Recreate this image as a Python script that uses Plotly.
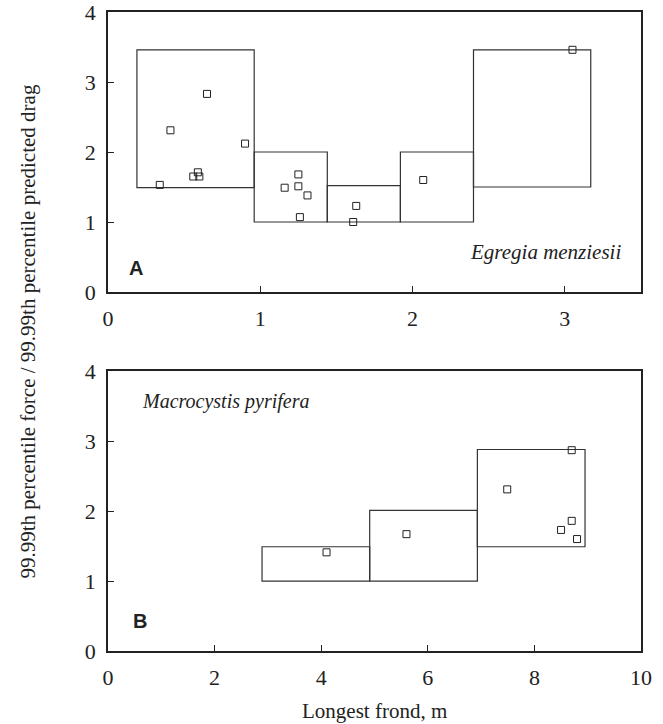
import plotly.graph_objects as go
from plotly.subplots import make_subplots

# Panel A: Egregia menziesii
a_x = [0.34, 0.41, 0.65, 0.90, 0.56, 0.59, 0.60, 1.25, 1.16, 1.25, 1.31, 1.26, 1.63, 1.61, 2.07, 3.05]
a_y = [1.53, 2.31, 2.83, 2.12, 1.65, 1.71, 1.65, 1.68, 1.49, 1.51, 1.38, 1.07, 1.23, 1.00, 1.60, 3.46]
a_box_x0 = [0.19, 0.96, 1.44, 1.92, 2.40]
a_box_x1 = [0.96, 1.44, 1.92, 2.40, 3.17]
a_box_y0 = [1.49, 1.00, 1.00, 1.00, 1.50]
a_box_y1 = [3.46, 2.00, 1.52, 2.00, 3.46]

# Panel B: Macrocystis pyrifera
b_x = [4.10, 5.60, 7.49, 8.70, 8.70, 8.50, 8.80]
b_y = [1.41, 1.67, 2.31, 2.87, 1.86, 1.73, 1.60]
b_box_x0 = [2.89, 4.91, 6.93]
b_box_x1 = [4.91, 6.93, 8.95]
b_box_y0 = [1.00, 1.00, 1.49]
b_box_y1 = [1.49, 2.01, 2.88]

a_xticks = [0, 1, 2, 3]
b_xticks = [0, 2, 4, 6, 8, 10]
yticks = [0, 1, 2, 3, 4]

SERIF = "Times New Roman, Liberation Serif, serif"
SANS = "Arial, Liberation Sans, sans-serif"

fig = make_subplots(rows=2, cols=1)

marker = dict(symbol="square-open", size=7, color="#222", line=dict(width=1))
fig.add_trace(go.Scatter(x=a_x, y=a_y, mode="markers", marker=marker, showlegend=False), row=1, col=1)
fig.add_trace(go.Scatter(x=b_x, y=b_y, mode="markers", marker=marker, showlegend=False), row=2, col=1)

for x0, x1, y0, y1 in zip(a_box_x0, a_box_x1, a_box_y0, a_box_y1):
    fig.add_shape(type="rect", x0=x0, x1=x1, y0=y0, y1=y1, xref="x", yref="y",
                  line=dict(color="#333", width=1.2), layer="below")
for x0, x1, y0, y1 in zip(b_box_x0, b_box_x1, b_box_y0, b_box_y1):
    fig.add_shape(type="rect", x0=x0, x1=x1, y0=y0, y1=y1, xref="x2", yref="y2",
                  line=dict(color="#333", width=1.2), layer="below")

axis_common = dict(showline=True, linecolor="#222", linewidth=1.5, mirror=True,
                   ticks="inside", ticklen=6, tickcolor="#222", tickwidth=1,
                   showgrid=False, zeroline=False, automargin=False,
                   ticklabeloverflow="allow",
                   tickfont=dict(family=SERIF, size=22, color="#222"))

fig.update_xaxes(range=[0, 3.5], tickvals=a_xticks, ticklabelstandoff=6, row=1, col=1, **axis_common)
fig.update_xaxes(range=[0, 10], tickvals=b_xticks, ticklabelstandoff=6, row=2, col=1, **axis_common)
fig.update_yaxes(range=[0, 4], tickvals=yticks, ticklabelstandoff=6, domain=[0.5618, 1.0],
                 row=1, col=1, **axis_common)
fig.update_yaxes(range=[0, 4], tickvals=yticks, ticklabelstandoff=6, domain=[0.0, 0.438],
                 row=2, col=1, **axis_common)

ann = [
    dict(text="<b>A</b>", x=0.035, y=0.085, xref="x domain", yref="y domain", xanchor="left", yanchor="middle",
         showarrow=False, font=dict(family=SANS, size=20, color="#222")),
    dict(text="<b>B</b>", x=0.044, y=0.106, xref="x2 domain", yref="y2 domain", xanchor="left", yanchor="middle",
         showarrow=False, font=dict(family=SANS, size=20, color="#222")),
    dict(text="<i>Egregia menziesii</i>", x=0.967, y=0.143, xref="x domain", yref="y domain",
         xanchor="right", yanchor="middle", showarrow=False, font=dict(family=SERIF, size=21, color="#222")),
    dict(text="<i>Macrocystis pyrifera</i>", x=0.06, y=0.89, xref="x2 domain", yref="y2 domain",
         xanchor="left", yanchor="middle", showarrow=False, font=dict(family=SERIF, size=20, color="#222")),
    dict(text="99.99th percentile force / 99.99th percentile predicted drag", x=(27 - 108) / 533, y=0.5,
         xref="paper", yref="paper", xanchor="center", yanchor="middle", showarrow=False, textangle=-90,
         font=dict(family=SERIF, size=21, color="#222")),
    dict(text="Longest frond, m", x=0.5, y=-0.094, xref="paper", yref="paper",
         xanchor="center", yanchor="middle", showarrow=False, font=dict(family=SERIF, size=21, color="#222")),
]
fig.update_layout(annotations=ann, width=663, height=724,
                  margin=dict(l=108, r=22, t=12, b=73),
                  plot_bgcolor="white", paper_bgcolor="white")
fig.write_html("out.html")
